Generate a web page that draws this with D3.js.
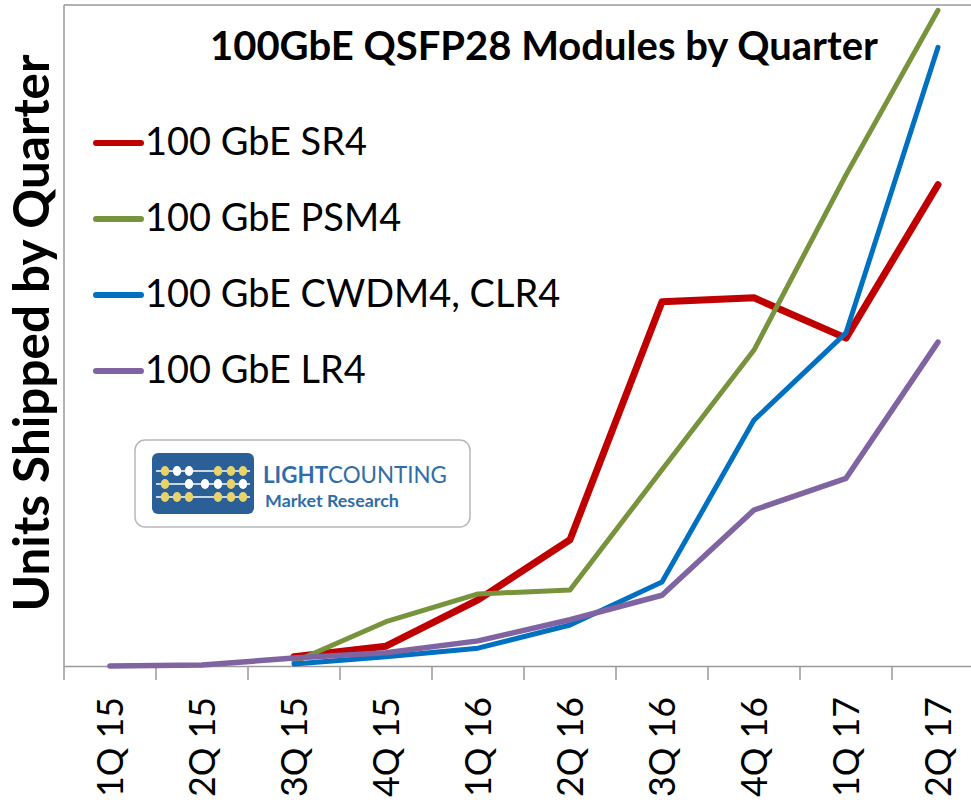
<!DOCTYPE html>
<html>
<head>
<meta charset="utf-8">
<script src="https://cdn.jsdelivr.net/npm/d3@7"></script>
<style>
  html, body { margin: 0; padding: 0; background: #fff; }
  svg { display: block; }
  text { font-family: Lato, "Open Sans", sans-serif; fill: #000; }
</style>
</head>
<body>
<svg id="chart" width="971" height="803"></svg>
<script>
// ---- data ----
const quarters = ["1Q 15", "2Q 15", "3Q 15", "4Q 15", "1Q 16", "2Q 16", "3Q 16", "4Q 16", "1Q 17", "2Q 17"];
const seriesNames = ["100 GbE SR4", "100 GbE PSM4", "100 GbE CWDM4, CLR4", "100 GbE LR4"];
const sr4   = [null, null, 1.4, 3.0, 10.0, 19.1, 55.1, 55.7, 49.6, 72.8];
const psm4  = [null, null, 0.6, 6.7, 10.9, 11.5, 29.7, 47.8, 74.3, 99.2];
const cwdm4 = [null, null, 0.3, 1.4, 2.7, 6.2, 12.7, 37.2, 50.4, 93.6];
const lr4   = [0, 0.15, 1.2, 2.0, 3.8, 7.0, 10.7, 23.6, 28.4, 49.0];
const colors = ["#C00000", "#77933C", "#0070C0", "#8064A2"];
const widths = [7, 5, 5, 5.5];
const titleText = "100GbE QSFP28 Modules by Quarter";
const yTitle = "Units Shipped by Quarter";

(function () {
const svg = d3.select("#chart");
const mLeft = 64, mRight = 984, mTop = 5, mBottom = 666;

const x = d3.scaleBand().domain(quarters).range([mLeft, mRight]).paddingInner(0).paddingOuter(0);
const y = d3.scaleLinear().domain([0, 100]).range([mBottom, mTop]);

function fit(sel, target) {
  const len = sel.node().getComputedTextLength();
  const fs = parseFloat(sel.attr("font-size"));
  sel.attr("font-size", fs * target / len);
}

// frame: top border and left axis line
const axisColor = "#9a9a9a";
svg.append("line").attr("x1", mLeft).attr("x2", 971).attr("y1", mTop).attr("y2", mTop)
  .attr("stroke", axisColor).attr("stroke-width", 1.5);
svg.append("line").attr("x1", mLeft).attr("x2", mLeft).attr("y1", mTop).attr("y2", mBottom)
  .attr("stroke", axisColor).attr("stroke-width", 1.5);

// x axis
const xAxis = d3.axisBottom(x).tickSize(0).tickFormat("");
const gx = svg.append("g").attr("transform", `translate(0,${mBottom})`).call(xAxis);
gx.select(".domain").attr("stroke", axisColor).attr("stroke-width", 1.5);
// tick marks between categories
const boundaries = quarters.map(q => x(q));
gx.selectAll("line.tb").data(boundaries).enter().append("line").attr("class", "tb")
  .attr("x1", d => d).attr("x2", d => d).attr("y1", 0).attr("y2", 14)
  .attr("stroke", axisColor).attr("stroke-width", 1.5);

// x labels rotated
const xl = svg.append("g").selectAll("text").data(quarters).enter().append("text")
  .attr("transform", d => `translate(${x(d) + x.bandwidth() / 2},697) rotate(-90)`)
  .attr("text-anchor", "end").attr("dy", "0.36em")
  .attr("font-size", 40).text(d => d);
{
  const first = xl.filter((d, i) => i === 0);
  const len = first.node().getComputedTextLength();
  xl.attr("font-size", 40 * 100 / len);
}

// y title
const yt = svg.append("text")
  .attr("transform", `translate(31,333) rotate(-90)`)
  .attr("text-anchor", "middle").attr("dy", "0.36em")
  .attr("font-weight", "bold").attr("font-size", 40).text(yTitle);
fit(yt, 557);

// chart title
const tt = svg.append("text").attr("x", 544).attr("y", 60).attr("text-anchor", "middle")
  .attr("font-weight", "bold").attr("font-size", 32).text(titleText);
fit(tt, 668);

// lines
const allSeries = [sr4, psm4, cwdm4, lr4];
const line = d3.line()
  .defined(d => d.v !== null)
  .x(d => x(d.q) + x.bandwidth() / 2)
  .y(d => y(d.v));
svg.append("g").selectAll("path").data(allSeries).enter().append("path")
  .attr("d", s => line(s.map((v, i) => ({ q: quarters[i], v }))))
  .attr("fill", "none")
  .attr("stroke", (s, i) => colors[i])
  .attr("stroke-width", (s, i) => widths[i])
  .attr("stroke-linejoin", "round")
  .attr("stroke-linecap", "round");

// legend
const lg = svg.append("g");
const rows = lg.selectAll("g").data(seriesNames).enter().append("g")
  .attr("transform", (d, i) => `translate(0,${143 + i * 76})`);
rows.append("line").attr("x1", 96).attr("x2", 141).attr("y1", 0).attr("y2", 0)
  .attr("stroke", (d, i) => colors[i]).attr("stroke-width", 6).attr("stroke-linecap", "round");
const lt = rows.append("text").attr("x", 145).attr("y", 12).attr("font-size", 33).text(d => d);
{
  const len = lt.filter((d, i) => i === 0).node().getComputedTextLength();
  lt.attr("font-size", 33 * 222 / len);
}

// logo
const logo = svg.append("g");
logo.append("rect").attr("x", 135).attr("y", 440).attr("width", 335).attr("height", 87)
  .attr("rx", 10).attr("fill", "#fff").attr("stroke", "#b8b8b8").attr("stroke-width", 1.5);
logo.append("rect").attr("x", 152).attr("y", 453).attr("width", 102).attr("height", 61)
  .attr("rx", 6).attr("fill", "#2B5F97");
const beadRows = [471, 484, 497];
beadRows.forEach(ry => logo.append("line").attr("x1", 156).attr("x2", 250).attr("y1", ry).attr("y2", ry)
  .attr("stroke", "#fff").attr("stroke-width", 1.5));
const beadCols = [165, 177, 189, 205, 218, 231, 243];
const beadPattern = [
  ["y", "w", "w", "", "y", "y", "y"],
  ["y", "", "w", "w", "w", "y", "w"],
  ["y", "y", "y", "", "y", "y", "y"]
];
beadPattern.forEach((row, r) => row.forEach((c, k) => {
  if (!c) return;
  logo.append("ellipse").attr("cx", beadCols[k]).attr("cy", beadRows[r]).attr("rx", 4.2).attr("ry", 5)
    .attr("fill", c === "y" ? "#E8D36A" : "#ffffff");
}));
const lc = logo.append("text").attr("x", 263).attr("y", 483).attr("font-size", 21).style("fill", "#2F6DA8");
lc.append("tspan").attr("font-weight", "bold").style("fill", "#2F6DA8").text("LIGHT");
lc.append("tspan").style("fill", "#2F6DA8").text("COUNTING");
fit(lc, 184);
const mr = logo.append("text").attr("x", 265).attr("y", 507).attr("font-size", 15)
  .attr("font-weight", "bold").style("fill", "#2F6DA8").text("Market Research");
fit(mr, 134);
})();
</script>
</body>
</html>
